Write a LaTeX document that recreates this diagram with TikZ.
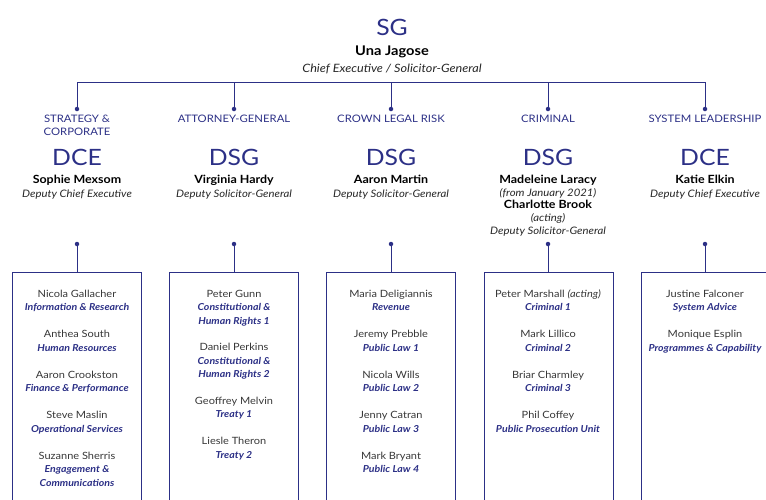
\documentclass[tikz,border=0pt]{standalone}
\usepackage{fontspec}
\setmainfont{Lato}[FakeStretch=1.1]
\usepackage{tikz}

\definecolor{sgnavy}{RGB}{44,48,134}
\definecolor{namegrey}{RGB}{55,55,55}

\begin{document}
\begin{tikzpicture}
  [x=1pt, y=-1pt,
   txt/.style={anchor=base, inner sep=0pt},
   title/.style={txt, text=sgnavy, font=\fontsize{22.5}{23}\selectfont},
   head/.style={txt, text=black, font=\bfseries\fontsize{11.3}{12}\selectfont},
   role/.style={txt, text=black!85, font=\itshape\fontsize{10.3}{12}\selectfont},
   dept/.style={txt, text=sgnavy, font=\fontsize{10.3}{11}\selectfont},
   staff/.style={txt, text=namegrey, font=\fontsize{10}{12}\selectfont},
   unit/.style={txt, text=sgnavy, font=\bfseries\itshape\fontsize{9.6}{11}\selectfont},
   group/.style={draw=sgnavy, line width=1pt, anchor=north, inner sep=0pt,
                 minimum width=129pt, minimum height=260pt},
   link/.style={draw=sgnavy, line width=1pt},
   dot/.style={fill=sgnavy, circle, inner sep=0pt, minimum size=4.5pt}]
  \useasboundingbox (0,0) rectangle (766,499);
  \clip (0,0) rectangle (766,499);

  % top of the tree
  \node[title] (sg) at (392,35) {SG};
  \node[head, font=\bfseries\fontsize{13.3}{14}\selectfont] (una) at (392,55.5) {Una Jagose};
  \node[role, font=\itshape\fontsize{11.5}{12}\selectfont] (ceo) at (392,72) {Chief Executive / Solicitor-General};

  \coordinate (bar1) at (77,82);
  \coordinate (bar2) at (234,82);
  \coordinate (bar3) at (391,82);
  \coordinate (bar4) at (548,82);
  \coordinate (bar5) at (705,82);
  \node[dot] (top1) at (77,109) {};
  \node[dot] (top2) at (234,109) {};
  \node[dot] (top3) at (391,109) {};
  \node[dot] (top4) at (548,109) {};
  \node[dot] (top5) at (705,109) {};
  \draw[link] (bar1) -- (bar5);
  \draw[link] (bar1) -- (top1);
  \draw[link] (bar2) -- (top2);
  \draw[link] (bar3) -- (top3);
  \draw[link] (bar4) -- (top4);
  \draw[link] (bar5) -- (top5);

  % groups
  \node[dept] (dept1a) at (77,122.5) {STRATEGY \&};
  \node[dept] (dept1b) at (77,135.5) {CORPORATE};
  \node[dept] (dept2) at (234,122.5) {ATTORNEY-GENERAL};
  \node[dept] (dept3) at (391,122.5) {CROWN LEGAL RISK};
  \node[dept] (dept4) at (548,122.5) {CRIMINAL};
  \node[dept] (dept5) at (705,122.5) {SYSTEM LEADERSHIP};

  \node[title] (lead1) at (77,165) {DCE};
  \node[title] (lead2) at (234,165) {DSG};
  \node[title] (lead3) at (391,165) {DSG};
  \node[title] (lead4) at (548,165) {DSG};
  \node[title] (lead5) at (705,165) {DCE};

  \node[head] (who1) at (77,183.5) {Sophie Mexsom};
  \node[role] (job1) at (77,197.5) {Deputy Chief Executive};
  \node[head] (who2) at (234,183.5) {Virginia Hardy};
  \node[role] (job2) at (234,197.5) {Deputy Solicitor-General};
  \node[head] (who3) at (391,183.5) {Aaron Martin};
  \node[role] (job3) at (391,197.5) {Deputy Solicitor-General};
  \node[head] (who4a) at (548,183.5) {Madeleine Laracy};
  \node[role] (note4a) at (548,196) {(from January 2021)};
  \node[head] (who4b) at (548,208.5) {Charlotte Brook};
  \node[role] (note4b) at (548,221.5) {(acting)};
  \node[role] (job4) at (548,234.5) {Deputy Solicitor-General};
  \node[head] (who5) at (705,183.5) {Katie Elkin};
  \node[role] (job5) at (705,197.5) {Deputy Chief Executive};

  % boxes
  \node[dot] (low1) at (77,244) {};
  \node[dot] (low2) at (234,244) {};
  \node[dot] (low3) at (391,244) {};
  \node[dot] (low4) at (548,244) {};
  \node[dot] (low5) at (705,244) {};
  \node[group] (box1) at (76.7,271.5) {};
  \node[group] (box2) at (234,271.5) {};
  \node[group] (box3) at (391.2,271.5) {};
  \node[group] (box4) at (548.5,271.5) {};
  \node[group] (box5) at (705.8,271.5) {};
  \draw[link] (low1) -- (low1 |- box1.north);
  \draw[link] (low2) -- (low2 |- box2.north);
  \draw[link] (low3) -- (low3 |- box3.north);
  \draw[link] (low4) -- (low4 |- box4.north);
  \draw[link] (low5) -- (low5 |- box5.north);

  % strategy & corporate
  \node[staff] (s11) at (77,297) {Nicola Gallacher};
  \node[unit] (u11) at (77,310.5) {Information \& Research};
  \node[staff] (s12) at (77,337.5) {Anthea South};
  \node[unit] (u12) at (77,351) {Human Resources};
  \node[staff] (s13) at (77,378) {Aaron Crookston};
  \node[unit] (u13) at (77,391.5) {Finance \& Performance};
  \node[staff] (s14) at (77,418.5) {Steve Maslin};
  \node[unit] (u14) at (77,432) {Operational Services};
  \node[staff] (s15) at (77,459) {Suzanne Sherris};
  \node[unit] (u15a) at (77,472.5) {Engagement \&};
  \node[unit] (u15b) at (77,486) {Communications};

  % attorney-general
  \node[staff] (s21) at (234,297) {Peter Gunn};
  \node[unit] (u21a) at (234,310.5) {Constitutional \&};
  \node[unit] (u21b) at (234,324) {Human Rights 1};
  \node[staff] (s22) at (234,350.5) {Daniel Perkins};
  \node[unit] (u22a) at (234,364) {Constitutional \&};
  \node[unit] (u22b) at (234,377.5) {Human Rights 2};
  \node[staff] (s23) at (234,404) {Geoffrey Melvin};
  \node[unit] (u23) at (234,417.5) {Treaty 1};
  \node[staff] (s24) at (234,444.5) {Liesle Theron};
  \node[unit] (u24) at (234,458) {Treaty 2};

  % crown legal risk
  \node[staff] (s31) at (391,297) {Maria Deligiannis};
  \node[unit] (u31) at (391,310.5) {Revenue};
  \node[staff] (s32) at (391,337.5) {Jeremy Prebble};
  \node[unit] (u32) at (391,351) {Public Law 1};
  \node[staff] (s33) at (391,378) {Nicola Wills};
  \node[unit] (u33) at (391,391.5) {Public Law 2};
  \node[staff] (s34) at (391,418.5) {Jenny Catran};
  \node[unit] (u34) at (391,432) {Public Law 3};
  \node[staff] (s35) at (391,459) {Mark Bryant};
  \node[unit] (u35) at (391,472.5) {Public Law 4};

  % criminal
  \node[staff] (s41) at (548,297) {Peter Marshall \textit{(acting)}};
  \node[unit] (u41) at (548,310.5) {Criminal 1};
  \node[staff] (s42) at (548,337.5) {Mark Lillico};
  \node[unit] (u42) at (548,351) {Criminal 2};
  \node[staff] (s43) at (548,378) {Briar Charmley};
  \node[unit] (u43) at (548,391.5) {Criminal 3};
  \node[staff] (s44) at (548,418.5) {Phil Coffey};
  \node[unit] (u44) at (548,432) {Public Prosecution Unit};

  % system leadership
  \node[staff] (s51) at (705,297) {Justine Falconer};
  \node[unit] (u51) at (705,310.5) {System Advice};
  \node[staff] (s52) at (705,337.5) {Monique Esplin};
  \node[unit] (u52) at (705,351) {Programmes \& Capability};
\end{tikzpicture}
\end{document}
